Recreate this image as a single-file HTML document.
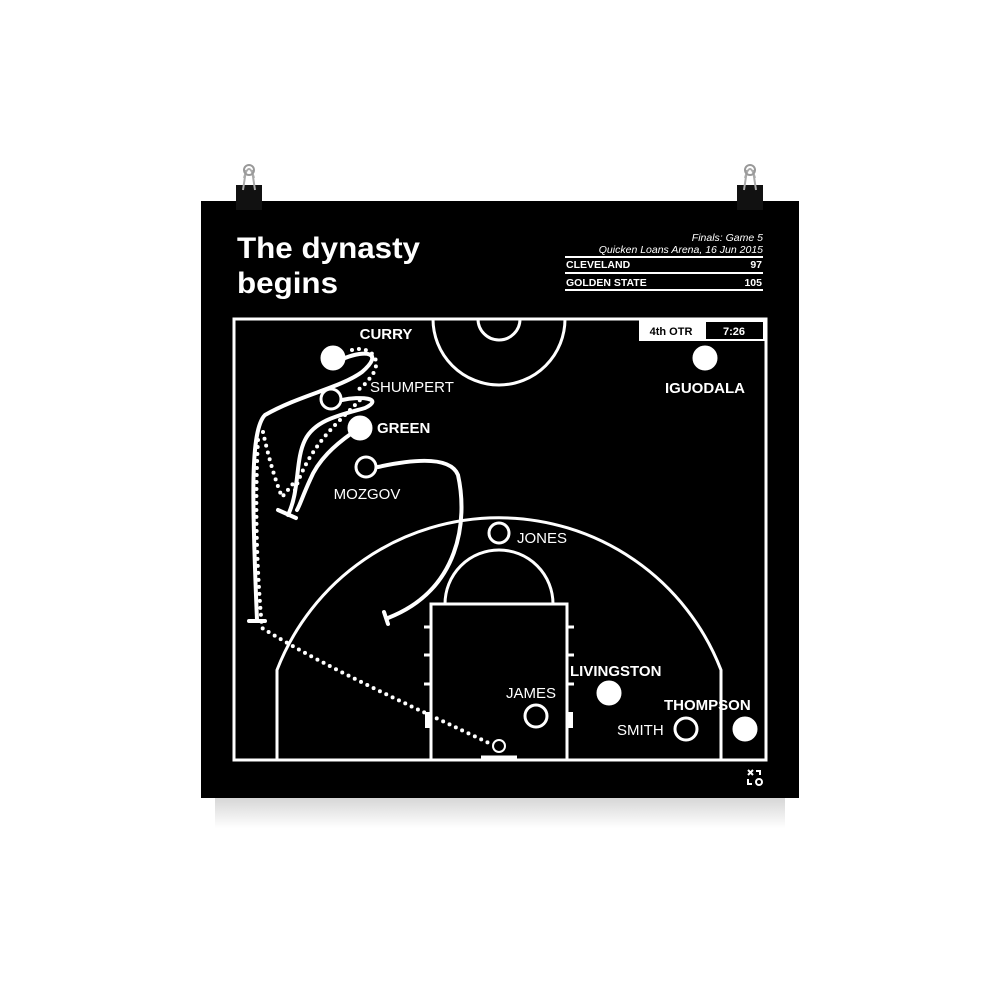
<!DOCTYPE html>
<html><head><style>
html,body{margin:0;padding:0;background:#fff;}
body{width:1000px;height:1000px;position:relative;overflow:hidden;font-family:"Liberation Sans",sans-serif;}
</style></head><body>
<svg width="1000" height="1000" viewBox="0 0 1000 1000" xmlns="http://www.w3.org/2000/svg" style="position:absolute;left:0;top:0">
<defs>
<linearGradient id="sh" x1="0" y1="0" x2="0" y2="1"><stop offset="0" stop-color="#bbb"/><stop offset="1" stop-color="#fff"/></linearGradient>
</defs>
<rect x="215" y="798" width="570" height="30" fill="url(#sh)" opacity="0.6"/>
<rect x="201" y="201" width="598" height="597" fill="#000"/>
<g>
<rect x="236" y="185" width="26" height="25" fill="#111"/>
<path d="M243 190 L246 170 M255 190 L252 170 M244 178 Q249 160 254 178" stroke="#aaa" stroke-width="2" fill="none"/>
<circle cx="249" cy="170" r="5" fill="none" stroke="#999" stroke-width="2"/>
<rect x="737" y="185" width="26" height="25" fill="#111"/>
<path d="M744 190 L747 170 M756 190 L753 170 M745 178 Q750 160 755 178" stroke="#aaa" stroke-width="2" fill="none"/>
<circle cx="750" cy="170" r="5" fill="none" stroke="#999" stroke-width="2"/>
</g>
<text x="237" y="258" fill="#fff" font-size="30" font-weight="bold" textLength="183" lengthAdjust="spacingAndGlyphs">The dynasty</text>
<text x="237" y="293" fill="#fff" font-size="30" font-weight="bold" textLength="101" lengthAdjust="spacingAndGlyphs">begins</text>
<g fill="#fff" font-size="10.5">
<text x="763" y="241" text-anchor="end" font-style="italic">Finals: Game 5</text>
<text x="763" y="253" text-anchor="end" font-style="italic">Quicken Loans Arena, 16 Jun 2015</text>
<rect x="565" y="256" width="198" height="2"/>
<text x="566" y="268" font-weight="bold">CLEVELAND</text><text x="762" y="268" text-anchor="end" font-weight="bold">97</text>
<rect x="565" y="272" width="198" height="2"/>
<text x="566" y="286" font-weight="bold">GOLDEN STATE</text><text x="762" y="286" text-anchor="end" font-weight="bold">105</text>
<rect x="565" y="289" width="198" height="2"/>
</g>
<g stroke="#fff" stroke-width="3" fill="none">
<rect x="234" y="319" width="532" height="441"/>
<path d="M433 319 A66 66 0 0 0 565 319"/>
<path d="M478 319 A21 21 0 0 0 520 319"/>
<path d="M277 760 L277 670 A238 238 0 0 1 721 670 L721 760"/>
<rect x="431" y="604" width="136" height="156"/>
<path d="M445 604 A54 54 0 0 1 553 604"/>
<path d="M424 627 h7 M424 655 h7 M424 684 h7 M567 627 h7 M567 655 h7 M567 684 h7"/>
<path d="M481 757 h36"/>
</g>
<rect x="425" y="712" width="6" height="16" fill="#fff"/>
<rect x="567" y="712" width="6" height="16" fill="#fff"/>
<rect x="639" y="320" width="127" height="21" fill="#fff"/>
<rect x="706" y="322" width="57" height="17" fill="#000"/>
<text x="671" y="335" text-anchor="middle" font-size="11" font-weight="bold" fill="#000">4th OTR</text>
<text x="734" y="335" text-anchor="middle" font-size="11" font-weight="bold" fill="#fff">7:26</text>
<g stroke="#fff" stroke-width="4" fill="none" stroke-linecap="round">
<path d="M345 358 C365 350 385 352 362 372 C340 388 300 395 265 415 C250 430 252 500 257 620"/>
<path d="M249 621 h16"/>
<path d="M342 400 C360 396 385 398 365 408 C340 415 315 420 305 440 C295 460 300 490 288 515"/>
<path d="M278 510 L296 518"/>
<path d="M352 433 C335 445 318 460 310 480 C303 495 300 505 297 510"/>
<path d="M378 467 C410 460 450 455 458 475 C468 520 460 590 388 618"/>
<path d="M384 612 L388 624"/>
</g>
<g stroke="#fff" stroke-width="4" fill="none" stroke-linecap="round" stroke-dasharray="0 7">
<path d="M352 350 C370 345 385 360 370 378 C365 385 360 388 356 392"/>
<path d="M263 432 C268 455 275 480 282 497 C288 490 292 485 296 480"/>
<path d="M295 490 C305 460 320 440 340 420 C350 410 355 405 360 400"/>
<path d="M258 440 C255 500 256 560 262 628 C330 670 420 710 493 745"/>
</g>
<g fill="#fff" stroke="#fff" stroke-width="3">
<circle cx="333" cy="358" r="11"/>
<circle cx="331" cy="399" r="10" fill="#000"/>
<circle cx="360" cy="428" r="11"/>
<circle cx="366" cy="467" r="10" fill="#000"/>
<circle cx="499" cy="533" r="10" fill="#000"/>
<circle cx="705" cy="358" r="11"/>
<circle cx="609" cy="693" r="11"/>
<circle cx="536" cy="716" r="11" fill="#000"/>
<circle cx="686" cy="729" r="11" fill="#000"/>
<circle cx="745" cy="729" r="11"/>
<circle cx="499" cy="746" r="6" fill="#000" stroke-width="2"/>
</g>
<g fill="#fff" font-size="15">
<text x="386" y="339" text-anchor="middle" font-weight="bold">CURRY</text>
<text x="370" y="392">SHUMPERT</text>
<text x="377" y="433" font-weight="bold">GREEN</text>
<text x="367" y="499" text-anchor="middle">MOZGOV</text>
<text x="517" y="543">JONES</text>
<text x="705" y="393" text-anchor="middle" font-weight="bold">IGUODALA</text>
<text x="570" y="676" font-weight="bold">LIVINGSTON</text>
<text x="506" y="698">JAMES</text>
<text x="617" y="735">SMITH</text>
<text x="664" y="710" font-weight="bold">THOMPSON</text>
</g>
<g stroke="#fff" stroke-width="2" fill="none">
<path d="M748 770 l5 5 M753 770 l-5 5 M756 771 h4 v4 M748 779 v5 h4"/>
<circle cx="759" cy="782" r="3"/>
</g>
</svg>
</body></html>
